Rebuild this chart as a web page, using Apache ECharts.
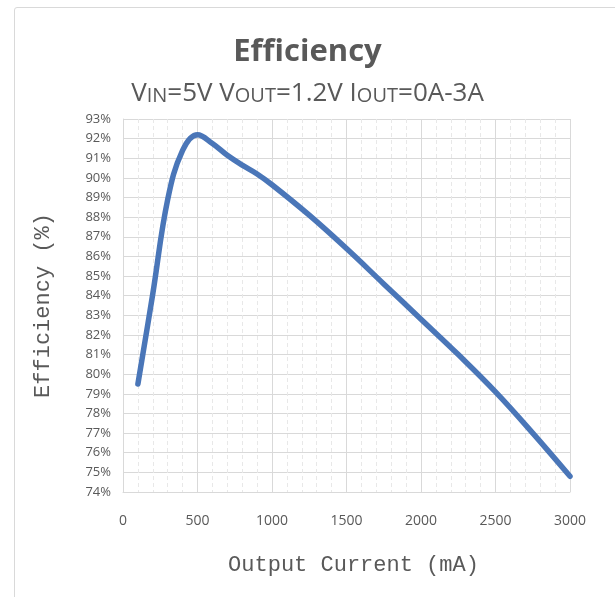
<!DOCTYPE html>
<html>
<head>
<meta charset="utf-8">
<script src="https://cdn.jsdelivr.net/npm/echarts@6/dist/echarts.min.js"></script>
<style>
  html, body { margin: 0; padding: 0; background: #fff; overflow: hidden; }
  .frame { position: absolute; left: 14px; top: 7px; width: 800px; height: 800px; border: 1px solid #d9d9d9; border-radius: 3px; }
  #chart { position: absolute; left: 0; top: 0; width: 615px; height: 597px; }
</style>
</head>
<body>
<div class="frame"></div>
<div id="chart"></div>
<script>
  // 输出电流 (mA)
  var currents = [100, 200, 300, 400, 500, 600, 700, 800, 900, 1000, 1250, 1500, 1750, 2000, 2250, 2500, 2750, 3000];
  // 效率 (%)
  var efficiency = [79.5, 84.1, 88.9, 91.4, 92.2, 91.75, 91.15, 90.65, 90.2, 89.65, 88.1, 86.4, 84.6, 82.8, 81.0, 79.1, 77.0, 74.8];
  var xTicks = [0, 500, 1000, 1500, 2000, 2500, 3000];
  var yMin = 74, yMax = 93;

  var points = currents.map(function (c, i) { return [c, efficiency[i]]; });

  var chart = echarts.init(document.getElementById('chart'), null, { renderer: 'canvas' });
  chart.setOption({
    backgroundColor: 'transparent',
    animation: false,
    title: [
      {
        text: 'Efficiency',
        left: 'center',
        top: 32,
        textStyle: { fontFamily: 'Open Sans', fontSize: 31, fontWeight: 'bold', color: '#595959' }
      },
      {
        text: 'V{s|IN}=5V V{s|OUT}=1.2V I{s|OUT}=0A-3A',
        left: 'center',
        top: 76,
        textStyle: {
          fontFamily: 'Open Sans', fontSize: 26, fontWeight: 'normal', color: '#595959',
          rich: { s: { fontFamily: 'Open Sans', fontSize: 20, color: '#595959', padding: [4, 0, 0, 0] } }
        }
      }
    ],
    grid: { left: 123, right: 45, top: 119, bottom: 105, containLabel: false },
    xAxis: {
      type: 'value',
      min: xTicks[0],
      max: xTicks[xTicks.length - 1],
      interval: 500,
      name: 'Output Current (mA)',
      nameLocation: 'middle',
      nameGap: 62,
      nameTextStyle: { fontFamily: 'Liberation Mono', fontSize: 22, color: '#595959', padding: [0, 0, 0, 14] },
      axisLine: { show: true, lineStyle: { color: '#d9d9d9', width: 1 } },
      axisTick: { show: false },
      axisLabel: { margin: 22, fontFamily: 'Open Sans', fontSize: 14, color: '#595959', formatter: function (v) { return String(v); } },
      splitLine: { show: true, lineStyle: { color: '#d9d9d9', width: 1 } },
      minorTick: { show: false, splitNumber: 5 },
      minorSplitLine: { show: true, lineStyle: { color: '#e8e8e8', width: 1, type: [4, 3] } }
    },
    yAxis: {
      type: 'value',
      min: yMin,
      max: yMax,
      interval: 1,
      name: 'Efficiency (%)',
      nameLocation: 'middle',
      nameGap: 69,
      nameTextStyle: { fontFamily: 'Liberation Mono', fontSize: 22, color: '#595959' },
      axisLine: { show: true, lineStyle: { color: '#d9d9d9', width: 1 } },
      axisTick: { show: false },
      axisLabel: { margin: 12, fontFamily: 'Open Sans', fontSize: 13, color: '#595959', formatter: '{value}%' },
      splitLine: { show: true, lineStyle: { color: '#d9d9d9', width: 1 } }
    },
    series: [
      {
        type: 'line',
        data: points,
        smooth: 0.4,
        showSymbol: false,
        lineStyle: { color: '#4a76b8', width: 5.5, cap: 'round', join: 'round' }
      }
    ]
  });
</script>
</body>
</html>
